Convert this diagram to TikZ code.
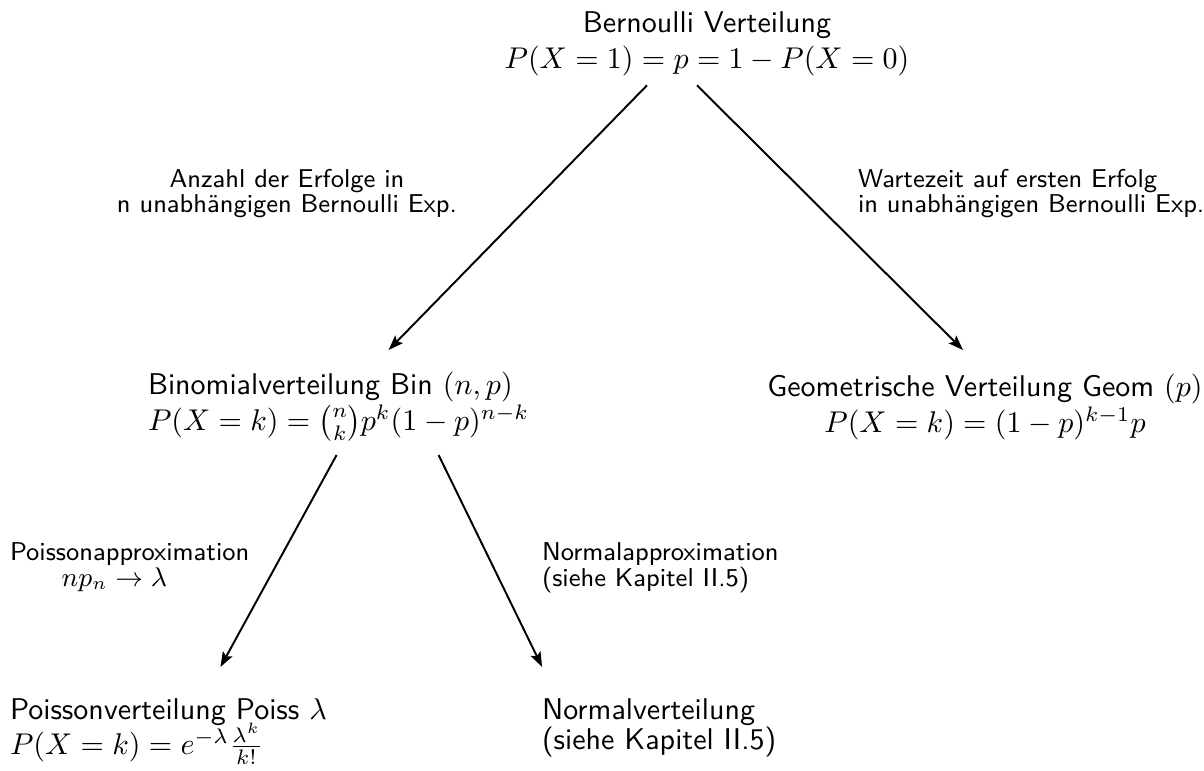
\documentclass[tikz,border=0pt]{standalone}
\usepackage{fontspec}
\usepackage{amsmath}
\usetikzlibrary{arrows.meta,calc}
\begin{document}
\begin{tikzpicture}[x=0.3333pt,y=-0.3333pt,
  every node/.style={inner sep=0pt,outer sep=0pt,font=\sffamily},
  cbox/.style={align=center},
  lbox/.style={align=left},
  lab/.style={font=\sffamily\fontsize{8.6}{8.4}\selectfont},
  arr/.style={-{Stealth[length=5pt,width=3.6pt,inset=1pt]},line width=0.65pt}]
\useasboundingbox (0,0) rectangle (1204,770);

\node[cbox,anchor=north] (bern) at (707,12) {Bernoulli Verteilung\\$P(X=1)=p=1-P(X=0)$};
\node[lbox,anchor=north west] (bin) at (148,372) {Binomialverteilung Bin $(n,p)$\\$P(X=k)=\binom{n}{k}p^k(1-p)^{n-k}$};
\node[cbox,anchor=north] (geom) at (985,374) {Geometrische Verteilung Geom $(p)$\\$P(X=k)=(1-p)^{k-1}p$};
\node[lbox,anchor=north west] (poiss) at (10,699) {Poissonverteilung Poiss $\lambda$\\[-2pt]$P(X=k)=e^{-\lambda}\frac{\lambda^k}{k!}$};
\node[lbox,anchor=north west] (norm) at (542,699) {Normalverteilung\\[-2pt](siehe Kapitel II.5)};

\node[lab,align=center,anchor=north] (anz) at (287,169) {Anzahl der Erfolge in\\n unabhängigen Bernoulli Exp.};
\node[lab,align=left,anchor=north west] (wart) at (858,169) {Wartezeit auf ersten Erfolg\\in unabhängigen Bernoulli Exp.};
\node[lab,align=left,anchor=north west] (plab) at (10,543) {Poissonapproximation\\\qquad$np_n\to\lambda$};
\node[lab,align=left,anchor=north west] (nlab) at (542,543) {Normalapproximation\\(siehe Kapitel II.5)};

\draw[arr] ($(bern.south)+(-60,9)$) -- ($(bin.north)+(50,-22)$);
\draw[arr] ($(bern.south)+(-10,9)$) -- ($(geom.north)+(-22,-24)$);
\draw[arr] ($(bin.south)+(-2,14)$) -- ($(poiss.north)+(52,-32)$);
\draw[arr] ($(bin.south)+(100,14)$) -- ($(norm.north)+(-117,-32)$);
\end{tikzpicture}
\end{document}
